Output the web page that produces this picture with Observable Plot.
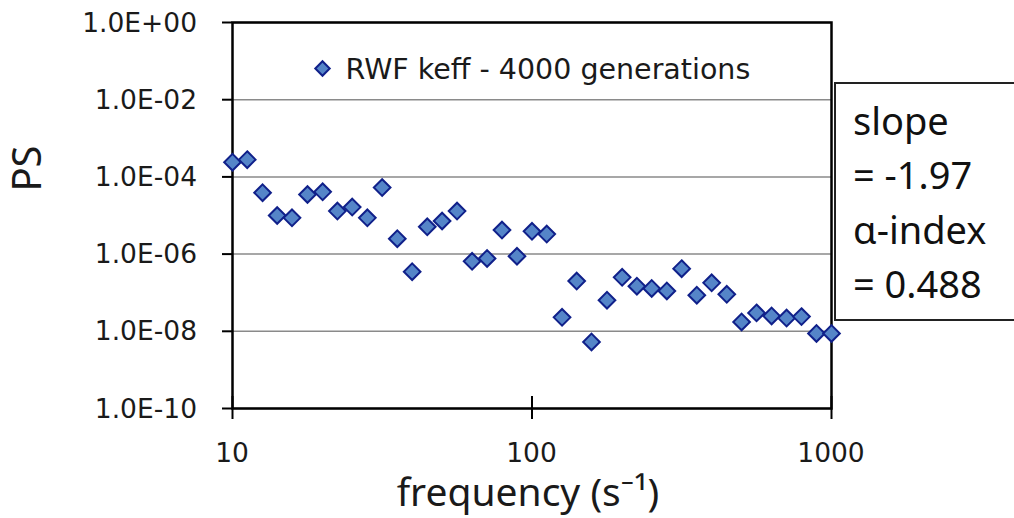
<!DOCTYPE html>
<html><head><meta charset="utf-8">
<script src="https://cdn.jsdelivr.net/npm/d3@7"></script>
<script src="https://cdn.jsdelivr.net/npm/@observablehq/plot@0.6"></script>
<style>body{margin:0;background:#fff;} #chart{width:1014px;height:518px;}</style>
</head><body><div id="chart"></div>
<script>
const frequency = [10, 11.2, 12.6, 14.1, 15.8, 17.8, 20, 22.4, 25.1, 28.2, 31.6, 35.5, 39.8, 44.7, 50.1, 56.2, 63.1, 70.8, 79.4, 89.1,
  100, 112, 126, 141, 158, 178, 200, 224, 251, 282, 316, 355, 398, 447, 501, 562, 631, 708, 794, 891, 1000];
const ps = [2.4e-4, 2.8e-4, 3.9e-5, 1.0e-5, 8.7e-6, 3.5e-5, 4.1e-5, 1.3e-5, 1.65e-5, 8.7e-6, 5.3e-5, 2.5e-6, 3.5e-7, 5.1e-6, 7.2e-6, 1.3e-5, 6.5e-7, 7.7e-7, 4.2e-6, 8.8e-7,
  3.9e-6, 3.3e-6, 2.3e-8, 2.0e-7, 5.3e-9, 6.4e-8, 2.5e-7, 1.47e-7, 1.29e-7, 1.11e-7, 4.2e-7, 8.6e-8, 1.8e-7, 9.1e-8, 1.75e-8, 3.0e-8, 2.5e-8, 2.2e-8, 2.4e-8, 8.8e-9, 8.8e-9];
const yTicks = [1, 1e-2, 1e-4, 1e-6, 1e-8, 1e-10];
const xTicks = [10, 100, 1000];
const seriesName = "RWF keff - 4000 generations";
const yLabel = "PS";
const xLabel = "frequency (s\u207B\u00B9)";
const noteLines = ["slope", "= -1.97", "\u03B1-index", "= 0.488"];

const data = frequency.map((f, i) => ({f, ps: ps[i]}));
const fmtE = d => { const e = Math.round(Math.log10(d)); return "1.0E" + (e < 0 ? "-" : "+") + String(Math.abs(e)).padStart(2, "0"); };
const fillC = "#5585c8", strokeC = "#10208a";
const tickFont = "DejaVu Sans, sans-serif";

// tick labels drawn through Plot's own scales
const tickLabels = (index, scales, values, dims) => {
  const g = d3.create("svg:g").attr("fill", "#1a1a1a").attr("font-family", tickFont).attr("font-size", 26.5);
  g.selectAll(".yl").data(yTicks).join("text").attr("class", "yl")
    .attr("x", dims.marginLeft - 35).attr("y", d => scales.y(d)).attr("dy", "0.36em")
    .attr("text-anchor", "end").text(fmtE);
  g.selectAll(".xl").data(xTicks).join("text").attr("class", "xl")
    .attr("x", d => scales.x(d)).attr("y", dims.height - dims.marginBottom + 54)
    .attr("text-anchor", "middle").text(d => String(d));
  return g.node();
};

const noteMark = () => {
  const g = d3.create("svg:g");
  g.append("rect").attr("x", 835).attr("y", 83).attr("width", 200).attr("height", 237)
    .attr("fill", "white").attr("stroke", "#222").attr("stroke-width", 2);
  g.selectAll("text").data(noteLines).join("text")
    .attr("x", 853).attr("y", (d, i) => 135 + i * 54.3)
    .attr("text-anchor", "start").attr("font-family", "Noto Sans, sans-serif")
    .attr("font-size", 38).attr("fill", "#111").text(d => d);
  return g.node();
};

const chart = Plot.plot({
  width: 1014, height: 518,
  marginLeft: 232, marginRight: 183, marginTop: 22, marginBottom: 110,
  style: {fontFamily: "'Noto Sans', sans-serif", fontSize: "28px", color: "#1a1a1a", background: "white", overflow: "visible"},
  x: {type: "log", domain: [10, 1000], axis: null},
  y: {type: "log", domain: [1e-10, 1], axis: null},
  marks: [
    Plot.gridY(yTicks, {stroke: "#8a8a8a", strokeOpacity: 1, strokeWidth: 1.5}),
    Plot.tickY(yTicks, {y: d => d, insetLeft: -10, insetRight: 599, stroke: "black", strokeWidth: 2}),
    Plot.tickX(xTicks, {x: d => d, insetTop: 374, insetBottom: -11, stroke: "black", strokeWidth: 2}),
    tickLabels,
    Plot.frame({stroke: "black", strokeWidth: 2.5}),
    Plot.dot(data, {x: "f", y: "ps", symbol: "diamond2", r: 7.5, fill: fillC, stroke: strokeC, strokeWidth: 2}),
    Plot.dot([seriesName], {frameAnchor: "top-left", dx: 90, dy: 46, symbol: "diamond2", r: 6.5, fill: fillC, stroke: strokeC, strokeWidth: 2}),
    Plot.text([seriesName], {frameAnchor: "top-left", dx: 113, dy: 47, textAnchor: "start", lineAnchor: "middle", fontSize: 28.5, fontFamily: tickFont, fill: "#1a1a1a"}),
    Plot.text([yLabel], {frameAnchor: "top-left", dx: -204, dy: 146, rotate: -90, fontSize: 40, textAnchor: "middle", lineAnchor: "middle", fill: "#1a1a1a"}),
    Plot.text([xLabel], {frameAnchor: "bottom", dx: -4, dy: 85, fontSize: 39, fontFamily: "'Noto Sans', sans-serif", lineAnchor: "middle", fill: "#1a1a1a"}),
    noteMark
  ]
});
document.getElementById("chart").append(chart);
</script>
</body></html>
